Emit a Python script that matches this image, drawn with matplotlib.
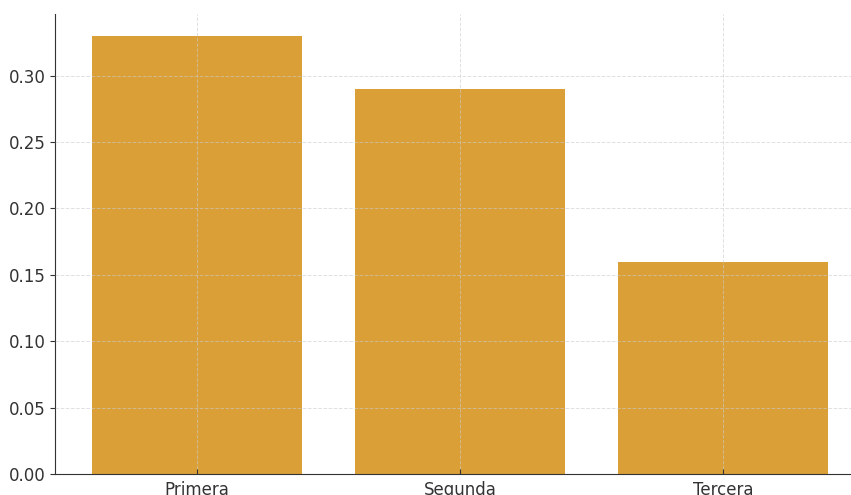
import matplotlib.pyplot as plt

categories = ['Primera', 'Segunda', 'Tercera']
values = [0.33, 0.29, 0.16]

fig = plt.figure(figsize=(8.51, 4.95), dpi=100)
W, H = 851, 495
# axes run a bit past the right edge of the picture, like the cropped original
ax = fig.add_axes([55 / W, 21 / H, 810 / W, 460 / H])

ax.bar(categories, values, width=0.8, color='#DAA037')

ax.grid(True, linestyle='--', color='#cccccc', linewidth=0.7, alpha=0.6)
ax.set_axisbelow(False)

for side in ['top', 'right']:
    ax.spines[side].set_visible(False)
for side in ['left', 'bottom']:
    ax.spines[side].set_color('#333333')

ax.set_yticks([0.0, 0.05, 0.10, 0.15, 0.20, 0.25, 0.30])
ax.set_yticklabels(['0.00', '0.05', '0.10', '0.15', '0.20', '0.25', '0.30'])
ax.tick_params(axis='y', direction='out', labelsize=12, colors='#333333')
ax.tick_params(axis='x', direction='in', labelsize=12, colors='#333333', pad=5)

fig.savefig('out.png', dpi=100)
